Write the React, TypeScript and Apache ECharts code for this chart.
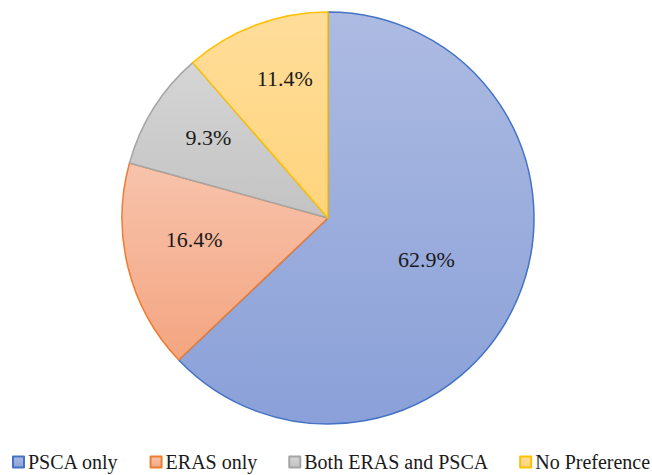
import React, { useEffect, useRef } from "react";
import * as echarts from "echarts";

// Preferred approach among respondents (percent of total)
const categories = ["PSCA only", "ERAS only", "Both ERAS and PSCA", "No Preference"];
const shares = [62.9, 16.4, 9.3, 11.4];

// Slice styling: [gradient top, gradient bottom, outline]
const palette: [string, string, string][] = [
  ["#adbbe2", "#8aa0d8", "#4472c4"],
  ["#f7c3ac", "#f4a580", "#ed7d31"],
  ["#d5d5d5", "#c3c3c3", "#a5a5a5"],
  ["#ffdd9a", "#ffd47c", "#ffc000"],
];

// Pixel nudges for the value labels, away from the default mid-radius spot
const labelNudge: [number, number][] = [
  [1, 0],
  [-31, -4],
  [-30, -24],
  [-6, -40],
];

const FONT = "Liberation Serif";

export default function App() {
  const ref = useRef<HTMLDivElement>(null);

  useEffect(() => {
    if (!ref.current) return;
    const chart = echarts.init(ref.current, undefined, { renderer: "svg" });

    const data = categories.map((name, i) => ({
      name,
      value: shares[i],
      itemStyle: {
        color: new echarts.graphic.LinearGradient(0, 0, 0, 1, [
          { offset: 0, color: palette[i][0] },
          { offset: 1, color: palette[i][1] },
        ]),
        borderColor: palette[i][2],
        borderWidth: 1.5,
      },
    }));

    chart.setOption({
      animation: false,
      backgroundColor: "#ffffff",
      legend: {
        orient: "horizontal",
        left: 12,
        top: 452,
        padding: 0,
        itemWidth: 11,
        itemHeight: 11,
        itemGap: 31,
        icon: "rect",
        textStyle: { fontFamily: FONT, fontSize: 20, color: "#1a1a1a", padding: [0, 0, 0, -1] },
        data: categories,
      },
      series: [
        {
          type: "pie",
          center: [328, 218],
          radius: [0, 206],
          startAngle: 90,
          clockwise: true,
          label: {
            show: true,
            position: "inside",
            formatter: (p: any) => `${p.value.toFixed(1)}%`,
            fontFamily: FONT,
            fontSize: 22,
            color: "#1a1a1a",
          },
          labelLine: { show: false },
          labelLayout: (p: any) => ({ dx: labelNudge[p.dataIndex][0], dy: labelNudge[p.dataIndex][1] }),
          emphasis: { disabled: true },
          data,
        },
      ],
    });

    return () => chart.dispose();
  }, []);

  return (
    <div style={{ position: "fixed", left: 0, top: 0, width: 652, height: 475, overflow: "hidden", background: "#fff" }}>
      <div ref={ref} style={{ width: 720, height: 475 }} />
    </div>
  );
}
